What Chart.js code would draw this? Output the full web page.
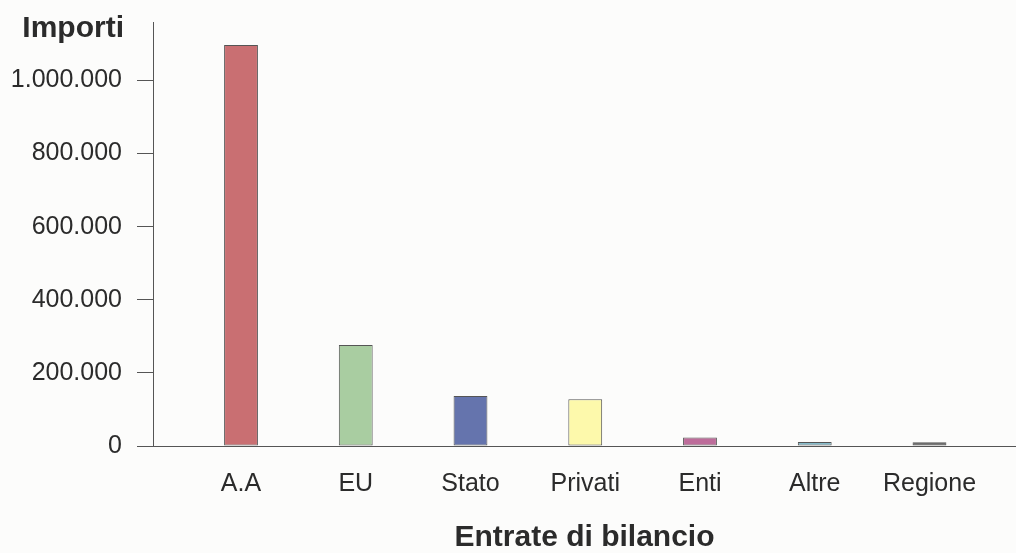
<!DOCTYPE html>
<html lang="it">
<head>
<meta charset="utf-8">
<title>Entrate di bilancio</title>
<script src="https://cdn.jsdelivr.net/npm/chart.js@4.4.1/dist/chart.umd.min.js"></script>
<style>
  html, body { margin: 0; padding: 0; background: #fcfcfb; }
  #grafico { display: block; }
</style>
</head>
<body>
<canvas id="grafico" width="1016" height="553"></canvas>
<script>
// dati
const categorie = ['A.A', 'EU', 'Stato', 'Privati', 'Enti', 'Altre', 'Regione'];
const importi = [1097000, 276000, 137000, 128000, 23000, 11000, 10000];
const coloriBarre = ['#c96f72', '#a9cda1', '#6574ad', '#fdf9ab', '#bd6c9a', '#86bccb', '#4a4a4a'];
const tickImporti = [0, 200000, 400000, 600000, 800000, 1000000];

const testo = '#2b2b2b';
const linee = '#555555';

// separatore delle migliaia all'italiana
function formatta(v) {
    return String(v).replace(/\B(?=(\d{3})+(?!\d))/g, '.');
}

// titolo dell'asse y scritto in orizzontale sopra le etichette
const titoloImporti = {
    id: 'titoloImporti',
    afterDraw(chart) {
        const c = chart.ctx;
        const area = chart.chartArea;
        c.save();
        c.font = 'bold 30px "Liberation Sans", Arial, sans-serif';
        c.fillStyle = testo;
        c.textAlign = 'right';
        c.textBaseline = 'alphabetic';
        c.fillText('Importi', area.left - 29, 37);
        c.restore();
    }
};

const punti = categorie.map((c, i) => ({ x: i, y: importi[i] }));

new Chart(document.getElementById('grafico').getContext('2d'), {
    type: 'bar',
    data: {
        datasets: [{
            label: 'Importi',
            data: punti,
            backgroundColor: coloriBarre,
            borderColor: linee,
            borderWidth: 1,
            borderSkipped: false,
            categoryPercentage: 1,
            barPercentage: 0.295
        }]
    },
    options: {
        responsive: false,
        animation: false,
        layout: { padding: { left: 11, top: 22, right: 0, bottom: 0 } },
        plugins: {
            legend: { display: false },
            tooltip: { enabled: false }
        },
        scales: {
            x: {
                type: 'linear',
                offset: false,
                min: -0.767,
                max: 6.754,
                afterBuildTicks(scale) {
                    scale.ticks = categorie.map((c, i) => ({ value: i }));
                },
                afterFit(scale) {
                    scale.height = 107;
                },
                ticks: {
                    autoSkip: false,
                    maxRotation: 0,
                    padding: 23,
                    color: testo,
                    font: { family: '"Liberation Sans", Arial, sans-serif', size: 25 },
                    callback: (v) => categorie[v]
                },
                grid: { display: false, drawTicks: false, offset: false },
                border: { display: true, color: linee, width: 1 },
                title: {
                    display: true,
                    text: 'Entrate di bilancio',
                    color: testo,
                    font: { family: '"Liberation Sans", Arial, sans-serif', size: 30, weight: 'bold' },
                    padding: { top: 0, bottom: -3 }
                }
            },
            y: {
                min: 0,
                max: 1160000,
                afterBuildTicks(scale) {
                    scale.ticks = tickImporti.map(v => ({ value: v }));
                },
                afterFit(scale) {
                    scale.width = 142;
                    scale.paddingTop = 0;
                    scale.paddingBottom = 0;
                },
                ticks: {
                    padding: 15,
                    color: testo,
                    font: { family: '"Liberation Sans", Arial, sans-serif', size: 25 },
                    callback: (v) => formatta(v)
                },
                grid: {
                    drawOnChartArea: false,
                    drawTicks: true,
                    tickLength: 16,
                    color: linee,
                    lineWidth: 1
                },
                border: { display: true, color: linee, width: 1 }
            }
        }
    },
    plugins: [titoloImporti]
});
</script>
</body>
</html>
